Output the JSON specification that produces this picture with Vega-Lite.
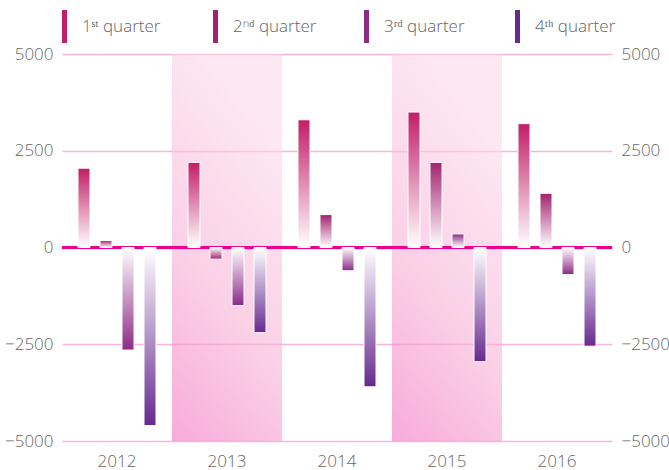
{
  "$schema": "https://vega.github.io/schema/vega-lite/v6.json",
  "autosize": "none",
  "width": 550,
  "height": 387,
  "padding": {"left": 62, "top": 54, "right": 57, "bottom": 29},
  "datasets": {
    "sales": [
      {"year": "2012", "quarter": "Q1", "value": 2050},
      {"year": "2012", "quarter": "Q2", "value": 180},
      {"year": "2012", "quarter": "Q3", "value": -2650},
      {"year": "2012", "quarter": "Q4", "value": -4600},
      {"year": "2013", "quarter": "Q1", "value": 2200},
      {"year": "2013", "quarter": "Q2", "value": -300},
      {"year": "2013", "quarter": "Q3", "value": -1500},
      {"year": "2013", "quarter": "Q4", "value": -2200},
      {"year": "2014", "quarter": "Q1", "value": 3300},
      {"year": "2014", "quarter": "Q2", "value": 850},
      {"year": "2014", "quarter": "Q3", "value": -600},
      {"year": "2014", "quarter": "Q4", "value": -3600},
      {"year": "2015", "quarter": "Q1", "value": 3500},
      {"year": "2015", "quarter": "Q2", "value": 2200},
      {"year": "2015", "quarter": "Q3", "value": 350},
      {"year": "2015", "quarter": "Q4", "value": -2950},
      {"year": "2016", "quarter": "Q1", "value": 3200},
      {"year": "2016", "quarter": "Q2", "value": 1400},
      {"year": "2016", "quarter": "Q3", "value": -700},
      {"year": "2016", "quarter": "Q4", "value": -2550}
    ],
    "bands": [
      {"year": "2013", "top": 5000, "bottom": -5000},
      {"year": "2015", "top": 5000, "bottom": -5000}
    ],
    "zero": [
      {"value": 0}
    ]
  },
  "resolve": {"scale": {"y": "shared"}, "axis": {"y": "independent"}},
  "layer": [
    {
      "data": {"name": "bands"},
      "mark": {
        "type": "rect",
        "opacity": 0.6,
        "color": {
          "gradient": "linear",
          "x1": 0, "y1": 1, "x2": 0.35, "y2": 0,
          "stops": [
            {"offset": 0, "color": "#f373c0"},
            {"offset": 0.45, "color": "#f7b0d6"},
            {"offset": 1, "color": "#fcd9e8"}
          ]
        }
      },
      "encoding": {
        "x": {"field": "year", "type": "nominal", "scale": {"domain": ["2012", "2013", "2014", "2015", "2016"], "paddingInner": 0, "paddingOuter": 0},
              "axis": {"title": null, "domain": false, "ticks": false, "labelFontSize": 17, "labelPadding": 12, "labelAngle": 0}},
        "y": {"field": "top", "type": "quantitative", "scale": {"domain": [-5000, 5000], "nice": false},
              "axis": {"orient": "left", "title": null, "values": [-5000, -2500, 0, 2500, 5000], "format": "d", "grid": true, "gridColor": "#f9b2d9", "gridWidth": 1.5, "domain": false, "ticks": false, "labelPadding": 9, "labelFontSize": 17}},
        "y2": {"field": "bottom"}
      }
    },
    {
      "data": {"name": "zero"},
      "mark": {"type": "rule", "color": "#ec008c", "strokeWidth": 3},
      "encoding": {
        "y": {"field": "value", "type": "quantitative",
              "axis": {"orient": "right", "title": null, "values": [-5000, -2500, 0, 2500, 5000], "format": "d", "grid": false, "domain": false, "ticks": false, "labelPadding": 9, "labelFontSize": 17}}
      }
    },
    {
      "data": {"name": "sales"},
      "mark": {"type": "bar", "stroke": "#ffffff", "strokeWidth": 1},
      "encoding": {
        "x": {"field": "year", "type": "nominal"},
        "xOffset": {"field": "quarter", "type": "nominal", "scale": {"paddingInner": 0.4545, "paddingOuter": 0.727}},
        "y": {"field": "value", "type": "quantitative", "axis": null},
        "fill": {
          "condition": [
            {"test": "datum.quarter === 'Q1' && datum.value >= 0", "value": {"gradient": "linear", "x1": 0, "y1": 0, "x2": 0, "y2": 1, "stops": [{"offset": 0, "color": "#c21d66"}, {"offset": 1, "color": "#ffffff"}]}},
            {"test": "datum.quarter === 'Q2' && datum.value >= 0", "value": {"gradient": "linear", "x1": 0, "y1": 0, "x2": 0, "y2": 1, "stops": [{"offset": 0, "color": "#a2226f"}, {"offset": 1, "color": "#ffffff"}]}},
            {"test": "datum.quarter === 'Q3' && datum.value >= 0", "value": {"gradient": "linear", "x1": 0, "y1": 0, "x2": 0, "y2": 1, "stops": [{"offset": 0, "color": "#8c2a86"}, {"offset": 1, "color": "#ffffff"}]}},
            {"test": "datum.quarter === 'Q4' && datum.value >= 0", "value": {"gradient": "linear", "x1": 0, "y1": 0, "x2": 0, "y2": 1, "stops": [{"offset": 0, "color": "#66298f"}, {"offset": 1, "color": "#ffffff"}]}},
            {"test": "datum.quarter === 'Q1'", "value": {"gradient": "linear", "x1": 0, "y1": 0, "x2": 0, "y2": 1, "stops": [{"offset": 0, "color": "#ffffff"}, {"offset": 1, "color": "#c21d66"}]}},
            {"test": "datum.quarter === 'Q2'", "value": {"gradient": "linear", "x1": 0, "y1": 0, "x2": 0, "y2": 1, "stops": [{"offset": 0, "color": "#ffffff"}, {"offset": 1, "color": "#a2226f"}]}},
            {"test": "datum.quarter === 'Q3'", "value": {"gradient": "linear", "x1": 0, "y1": 0, "x2": 0, "y2": 1, "stops": [{"offset": 0, "color": "#ffffff"}, {"offset": 1, "color": "#8c2a86"}]}}
          ],
          "value": {"gradient": "linear", "x1": 0, "y1": 0, "x2": 0, "y2": 1, "stops": [{"offset": 0, "color": "#ffffff"}, {"offset": 1, "color": "#66298f"}]}
        }
      }
    },
    {
      "data": {"name": "sales"},
      "mark": {"type": "text", "text": ""},
      "encoding": {
        "color": {
          "field": "quarter", "type": "nominal",
          "scale": {"domain": ["Q1", "Q2", "Q3", "Q4"], "range": ["#c21d66", "#a2226f", "#8c2a86", "#66298f"]},
          "legend": {
            "title": null,
            "orient": "none",
            "legendX": -14,
            "legendY": -44,
            "direction": "horizontal",
            "columns": 4,
            "gridAlign": "all",
            "columnPadding": 33,
            "symbolType": "M-0.15,-1V1H0.15V-1Z",
            "symbolSize": 1089,
            "symbolStrokeWidth": 0,
            "labelOffset": 1,
            "labelFontSize": 17,
            "labelFontWeight": 300,
            "labelColor": "#666666",
            "labelFont": "Open Sans",
            "labelExpr": "datum.label === 'Q1' ? '1ˢᵗ quarter' : datum.label === 'Q2' ? '2ⁿᵈ quarter' : datum.label === 'Q3' ? '3ʳᵈ quarter' : '4ᵗʰ quarter'"
          }
        }
      }
    }
  ],
  "config": {
    "view": {"stroke": null},
    "axis": {"labelFont": "Open Sans", "labelColor": "#666666", "labelFontWeight": 300}
  }
}
